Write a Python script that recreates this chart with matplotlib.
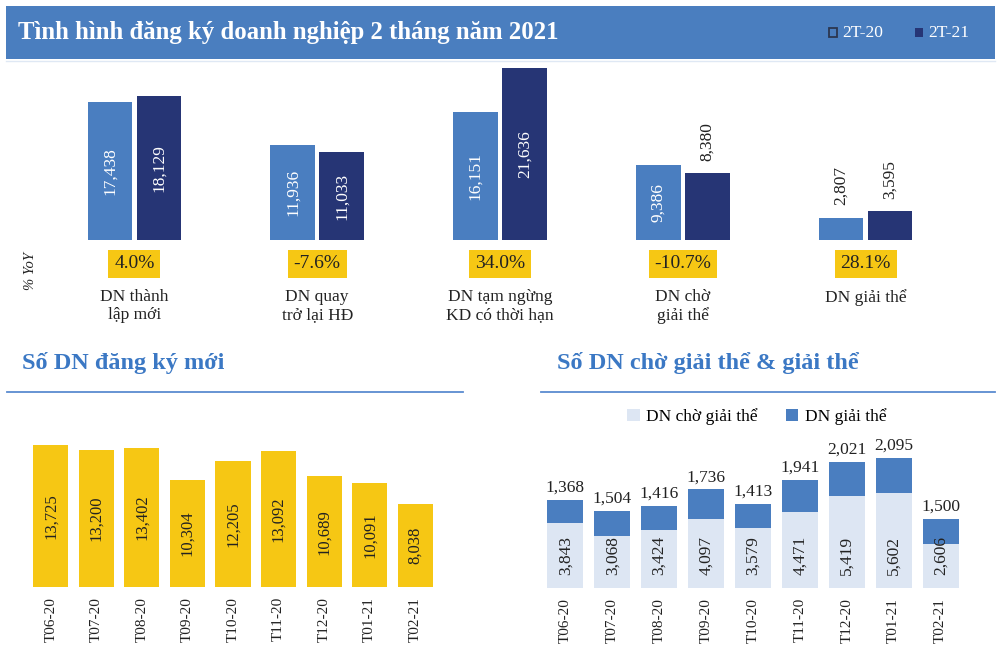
import matplotlib
matplotlib.use("Agg")
import matplotlib.pyplot as plt
from matplotlib.patches import Rectangle
from matplotlib.lines import Line2D
import matplotlib.transforms as mtransforms

plt.rcParams['font.family'] = ['Liberation Serif', 'DejaVu Serif']

# ---- data ----
top_cats = ["DN thành\nlập mới", "DN quay\ntrở lại HĐ", "DN tạm ngừng\nKD có thời hạn",
            "DN chờ\ngiải thể", "DN giải thể"]
val_2t20 = [17438, 11936, 16151, 9386, 2807]
val_2t21 = [18129, 11033, 21636, 8380, 3595]
yoy_pct = [4.0, -7.6, 34.0, -10.7, 28.1]

months = ["T06-20", "T07-20", "T08-20", "T09-20", "T10-20", "T11-20", "T12-20", "T01-21", "T02-21"]
new_reg = [13725, 13200, 13402, 10304, 12205, 13092, 10689, 10091, 8038]
pending = [3843, 3068, 3424, 4097, 3579, 4471, 5419, 5602, 2606]
dissolved = [1368, 1504, 1416, 1736, 1413, 1941, 2021, 2095, 1500]

# ---- colours ----
HEAD = '#4a7ebf'
LIGHT = '#4a7ec0'
NAVY = '#263575'
YELLOW = '#f6c714'
PALE = '#dde6f3'
TITLE_BLUE = '#3b78c4'
TXT = '#222222'

W, H = 1000, 661
fig = plt.figure(figsize=(W / 100, H / 100), dpi=100)


def rect(x0, y0, x1, y1):
    return [x0 / W, 1 - y1 / H, (x1 - x0) / W, (y1 - y0) / H]


def fy(y):
    return 1 - y / H


def clean(ax):
    for s in ax.spines.values():
        s.set_visible(False)
    ax.set_yticks([])
    ax.tick_params(axis='x', length=0)


# ---- header band ----
fig.add_artist(Rectangle((6 / W, fy(59)), 989 / W, 53 / H, transform=fig.transFigure,
                         facecolor=HEAD, edgecolor='none'))
fig.add_artist(Line2D([6 / W, 995 / W], [fy(61), fy(61)], transform=fig.transFigure,
                      color='#dfe8f4', lw=1))
fig.text(18 / W, fy(32), "Tình hình đăng ký doanh nghiệp 2 tháng năm 2021", color='white',
         fontsize=17.8, fontweight='bold', va='center', ha='left')
fig.add_artist(Rectangle((829 / W, fy(37)), 8 / W, 9 / H, transform=fig.transFigure,
                         facecolor=HEAD, edgecolor='#2c3650', lw=1.3))
fig.text(842 / W, fy(33), "2T-20", color='white', fontsize=12.5, va='center')
fig.add_artist(Rectangle((915 / W, fy(37)), 8 / W, 9 / H, transform=fig.transFigure,
                         facecolor=NAVY, edgecolor='none'))
fig.text(928 / W, fy(33), "2T-21", color='white', fontsize=12.5, va='center')

# ---- top grouped bars ----
ax = fig.add_axes(rect(43, 60, 957, 240))
clean(ax)
ax.set_xticks([])
ax.set_xlim(-0.5, 4.5)
ax.set_ylim(0, 22670)
bw = 0.245
off = 0.134
xs = list(range(len(top_cats)))
ax.bar([x - off for x in xs], val_2t20, width=bw, color=LIGHT)
ax.bar([x + off for x in xs], val_2t21, width=bw, color=NAVY)
for x, v1, v2 in zip(xs, val_2t20, val_2t21):
    for xx, v in ((x - off, v1), (x + off, v2)):
        if v > 9000:
            ax.text(xx, v / 2, f"{v:,}", rotation=90, ha='center', va='center',
                    color='white', fontsize=12.5)
        else:
            ax.annotate(f"{v:,}", (xx, v), xytext=(0, 9), textcoords='offset points',
                        rotation=90, ha='center', va='bottom', color=TXT, fontsize=12.5)

tr = mtransforms.blended_transform_factory(ax.transData, fig.transFigure)
for x, p, c in zip(xs, yoy_pct, top_cats):
    ax.text(x, fy(264), f"{p:.1f}%", transform=tr, ha='center', va='center',
            fontsize=14, color=TXT,
            bbox=dict(boxstyle='square,pad=0.3', facecolor=YELLOW, edgecolor='none'))
    ax.text(x, fy(289), c, transform=tr, ha='center', va='top', fontsize=12.5,
            color=TXT, linespacing=1.15)
fig.text(30 / W, fy(271), "% YoY", rotation=90, style='italic', fontsize=10.5,
         color=TXT, ha='center', va='center')

# ---- section titles ----
fig.text(22 / W, fy(363), "Số DN đăng ký mới", color=TITLE_BLUE, fontsize=17.5,
         fontweight='bold', va='center')
fig.add_artist(Line2D([7 / W, 463 / W], [fy(392), fy(392)], transform=fig.transFigure,
                      color='#5b8bd0', lw=1.3))
fig.text(557 / W, fy(363), "Số DN chờ giải thể & giải thể", color=TITLE_BLUE, fontsize=17.5,
         fontweight='bold', va='center')
fig.add_artist(Line2D([541 / W, 995 / W], [fy(392), fy(392)], transform=fig.transFigure,
                      color='#5b8bd0', lw=1.3))

# ---- bottom left: new registrations ----
ax2 = fig.add_axes(rect(28, 420, 438, 587))
clean(ax2)
ax2.set_xlim(-0.5, 8.5)
ax2.set_ylim(0, 16135)
mx = list(range(len(months)))
ax2.bar(mx, new_reg, width=0.77, color=YELLOW)
for x, v in zip(mx, new_reg):
    ax2.text(x, v / 2, f"{v:,}", rotation=90, ha='center', va='center', color=TXT,
             fontsize=12)
ax2.set_xticks(mx)
ax2.set_xticklabels(months, rotation=90, fontsize=11, color=TXT)
ax2.tick_params(axis='x', pad=7)

# ---- bottom right: stacked pending / dissolved ----
ax3 = fig.add_axes(rect(542, 430, 964, 588))
clean(ax3)
ax3.set_xlim(-0.5, 8.5)
ax3.set_ylim(0, 9349)
ax3.bar(mx, pending, width=0.77, color=PALE, label="DN chờ giải thể")
ax3.bar(mx, dissolved, width=0.77, bottom=pending, color=LIGHT, label="DN giải thể")
for x, p, d in zip(mx, pending, dissolved):
    ax3.annotate(f"{p:,}", (x, 0), xytext=(0, 9.5), textcoords='offset points',
                 rotation=90, ha='center', va='bottom', color=TXT, fontsize=12.5)
    ax3.annotate(f"{d:,}", (x, p + d), xytext=(0, 3), textcoords='offset points',
                 ha='center', va='bottom', color=TXT, fontsize=12.5)
ax3.set_xticks(mx)
ax3.set_xticklabels(months, rotation=90, fontsize=11, color=TXT)
ax3.tick_params(axis='x', pad=7)
ax3.legend(loc='center', bbox_to_anchor=(757 / W, fy(417)), bbox_transform=fig.transFigure,
           ncol=2, frameon=False, fontsize=12.5, handlelength=0.7, handleheight=0.7,
           handletextpad=0.4, columnspacing=1.6)

fig.savefig("out.png", dpi=100)
